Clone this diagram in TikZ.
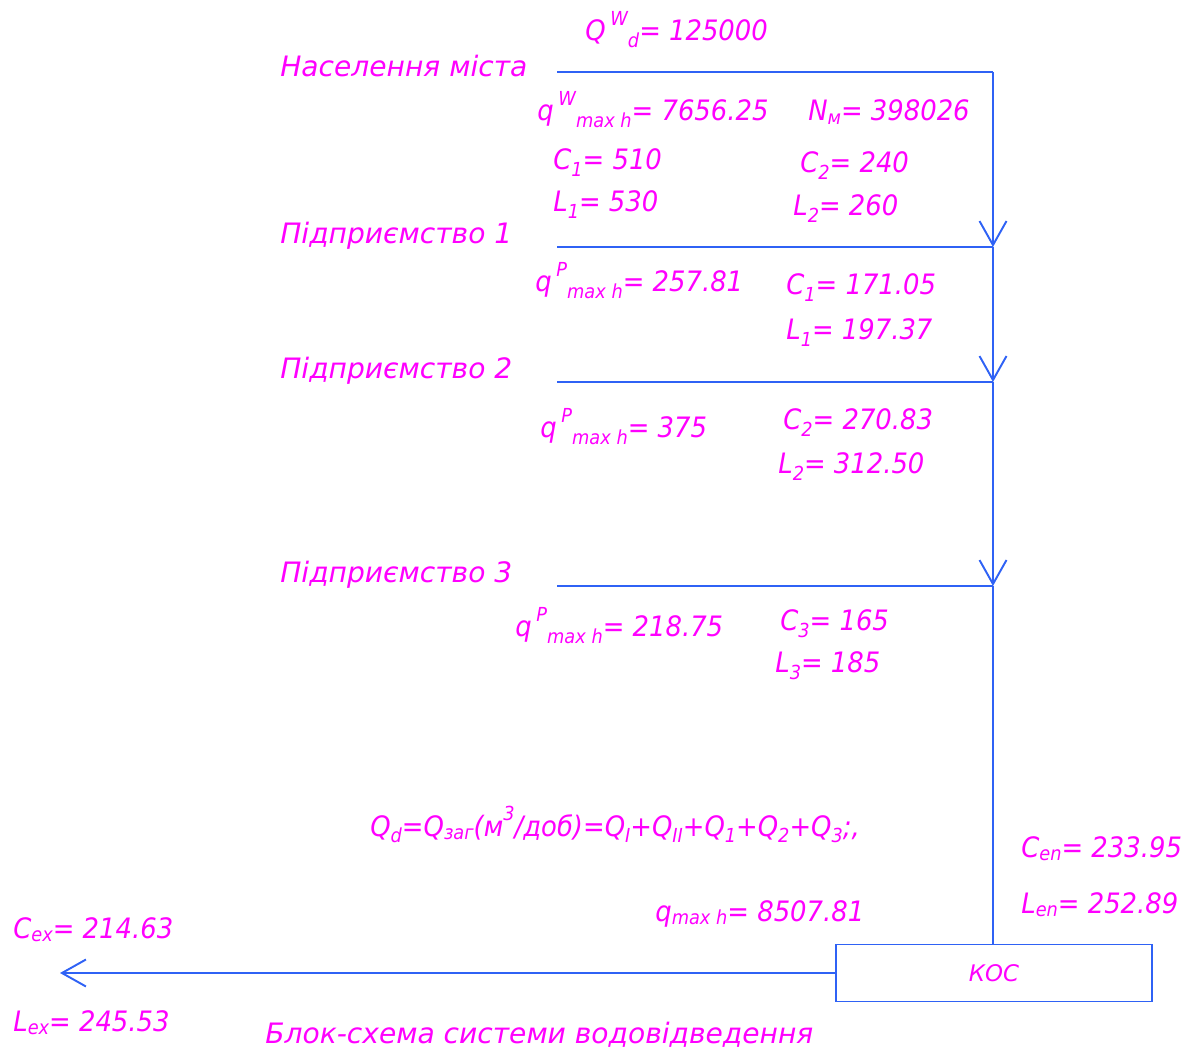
\documentclass[tikz,border=0pt]{standalone}
\usepackage{fontspec}
\setmainfont{DejaVu Sans}
\newfontfamily\valfont{DejaVu Sans}[FakeStretch=0.92]
\usetikzlibrary{arrows.meta, positioning}
\definecolor{wwpipe}{HTML}{2F62F5}
\definecolor{wwtext}{HTML}{FF00FF}
\newcommand{\hi}[1]{\raisebox{1.0ex}{\fontsize{11}{12}\selectfont #1}}
\newcommand{\lo}[1]{\raisebox{-0.45ex}{\fontsize{11}{12}\selectfont #1}}
\newcommand{\sm}[1]{\raisebox{-0.2ex}{\fontsize{11}{12}\selectfont #1}}

\begin{document}
\begin{tikzpicture}[x=0.02cm, y=-0.02cm,
          pipe/.style={draw=wwpipe, line width=1.1pt},
          flow/.style={pipe, -{Straight Barb[length=0.48cm, width=0.54cm]}},
          ttl/.style={font=\fontsize{16}{18}\selectfont\itshape, text=wwtext, inner sep=0pt, anchor=base west},
          val/.style={ttl, font=\fontsize{16}{18}\selectfont\valfont\itshape},
          box/.style={pipe, minimum width=6.32cm, minimum height=1.14cm, font=\fontsize{13}{14}\selectfont\itshape, text=wwtext}]
          \useasboundingbox (0,0) rectangle (1184,1050);
          % mains
          \coordinate (s0) at (557,72);  \coordinate (j0) at (993,72);
          \coordinate (s1) at (557,247); \coordinate (j1) at (993,247);
          \coordinate (s2) at (557,382); \coordinate (j2) at (993,382);
          \coordinate (s3) at (557,586); \coordinate (j3) at (993,586);
          \node[box] (kos) at (994,973) {КОС};
          \coordinate (ex) at (60,973);
          \draw[pipe] (s0)--(j0); \draw[pipe] (s1)--(j1); \draw[pipe] (s2)--(j2); \draw[pipe] (s3)--(j3);
          \draw[flow] (j0)--(j1); \draw[flow] (j1)--(j2); \draw[flow] (j2)--(j3);
          \draw[pipe] (j3)--(j3 |- kos.north);
          \draw[flow] (kos.west)--(ex);
          % city
          \node[val] (qwd) at (585,41) {Q\,\hi{W}\lo{d}= 125000};
          \node[ttl] (city) at (280,77) {Населення міста};
          \node[val] (qwh) at (537,121) {q\,\hi{W}\lo{max h}= 7656.25};
          \node[val] (nm) at (808,121) {N\sm{м}= 398026};
          \node[val] (c1a) at (553,170) {C\lo{1}= 510};
          \node[val] (l1a) at (553,212) {L\lo{1}= 530};
          \node[val] (c2a) at (800,173) {C\lo{2}= 240};
          \node[val] (l2a) at (793,216) {L\lo{2}= 260};
          % plants
          \node[ttl] (p1) at (280,244) {Підприємство 1};
          \node[val] (qp1) at (535,292) {q\,\hi{P}\lo{max h}= 257.81};
          \node[val] (c1b) at (786,295) {C\lo{1}= 171.05};
          \node[val] (l1b) at (786,340) {L\lo{1}= 197.37};
          \node[ttl] (p2) at (280,379) {Підприємство 2};
          \node[val] (qp2) at (540,438) {q\,\hi{P}\lo{max h}= 375};
          \node[val] (c2b) at (783,430) {C\lo{2}= 270.83};
          \node[val] (l2b) at (778,474) {L\lo{2}= 312.50};
          \node[ttl] (p3) at (280,583) {Підприємство 3};
          \node[val] (qp3) at (515,637) {q\,\hi{P}\lo{max h}= 218.75};
          \node[val] (c3) at (780,631) {C\lo{3}= 165};
          \node[val] (l3) at (775,673) {L\lo{3}= 185};
          % totals
          \node[val] (qd) at (370,836) {Q\lo{d}=Q\sm{заг}(м\hi{3}/доб)=Q\lo{I}+Q\lo{II}+Q\lo{1}+Q\lo{2}+Q\lo{3};,};
          \node[val] (qmh) at (655,921) {q\sm{max h}= 8507.81};
          \node[val] (cen) at (1021,857) {C\sm{en}= 233.95};
          \node[val] (len) at (1021,913) {L\sm{en}= 252.89};
          \node[val] (cex) at (13,938) {C\sm{ex}= 214.63};
          \node[val] (lex) at (13,1031) {L\sm{ex}= 245.53};
          \node[ttl] (title) at (265,1043) {Блок-схема системи водовідведення};
        \end{tikzpicture}
\end{document}
